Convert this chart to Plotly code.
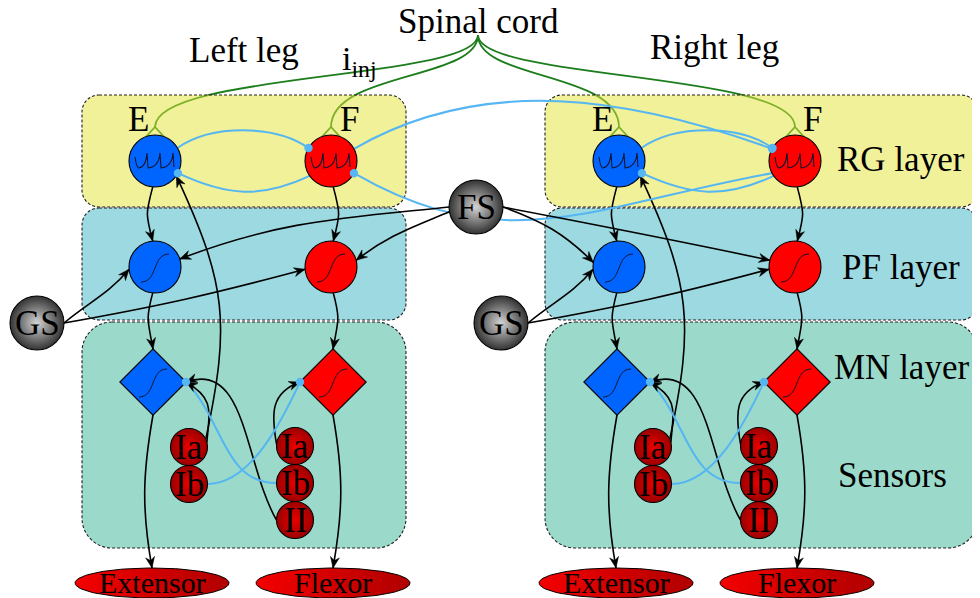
import numpy as np
import plotly.graph_objects as go

# ------------------------------------------------------------------ data
# nodes of one leg (left leg coordinates, pixel space, y downwards)
node_names = ["E_rg", "F_rg", "E_pf", "F_pf", "E_mn", "F_mn",
              "Ia_e", "Ib_e", "Ia_f", "Ib_f", "II_f", "Ext", "Flx", "GS"]
node_x = [155, 331, 155, 331, 153, 333, 189, 189, 295, 295, 295, 152, 333, 37]
node_y = [161, 161, 267, 267, 382, 382, 447, 484, 446, 483, 520, 583, 583, 323]
node_kind = ["rg", "rg", "pf", "pf", "mn", "mn", "sen", "sen", "sen", "sen",
             "sen", "mus", "mus", "gs"]
node_side = ["E", "F", "E", "F", "E", "F", "s", "s", "s", "s", "s", "m", "m", "g"]
node_text = ["", "", "", "", "", "", "Ia", "Ib", "Ia", "Ib", "II",
             "Extensor", "Flexor", "GS"]
leg_names = ["L", "R"]
leg_shift = [0, 464]
fs_pos = [476, 207]
cord_pos = [478, 35]

# layer boxes
box_x0 = [82, 545]
box_x1 = [406, 978]
layer_names = ["RG", "PF", "MN"]
layer_y0 = [95, 208, 322]
layer_y1 = [207, 320, 548]

# edges inside one leg: src, src anchor, out angle, dst, dst anchor, in angle, looseness, type
leg_edges = [
    ("E_rg", -95, -105, "E_pf", 95, 105, 1.3, "exc"),
    ("F_rg", -85, -75, "F_pf", 85, 75, 1.3, "exc"),
    ("E_pf", -95, -105, "E_mn", 90, 100, 1.3, "exc"),
    ("F_pf", -85, -75, "F_mn", 90, 80, 1.3, "exc"),
    ("E_mn", -90, -100, "Ext", 90, 100, 1.0, "exc"),
    ("F_mn", -90, -80, "Flx", 90, 80, 1.0, "exc"),
    ("GS", 0, 40, "E_pf", 185, 230, 1.0, "exc"),
    ("GS", 0, 10, "F_pf", 185, 195, 1.0, "exc"),
    ("Ia_e", 15, 85, "E_mn", 0, -30, 1.3, "exc"),
    ("Ia_e", 25, 78, "E_rg", -35, -65, 1.15, "exc"),
    ("II_f", 180, 120, "E_mn", 0, 20, 1.0, "exc"),
    ("Ia_f", 175, 100, "F_mn", 180, 200, 1.2, "exc"),
    ("E_rg", 30, 35, "F_rg", 150, 145, 0.8, "inh"),
    ("F_rg", 215, 205, "E_rg", -28, -25, 1.05, "inh"),
    ("Ib_e", 0, 0, "F_mn", 180, 245, 0.8, "inh"),
    ("Ib_f", 180, 180, "E_mn", 0, -45, 1.0, "inh"),
]
cross_edges = [
    ("F_rg.L", 28, 30, "F_rg.R", 152, 160, 0.92, "inh"),
    ("F_rg.R", 208, 190, "F_rg.L", -28, -30, 1.08, "inh"),
    ("FS", 180, 186, "E_pf.L", 18, 21, 1.0, "exc"),
    ("FS", 190, 203, "F_pf.L", 15, 38, 1.0, "exc"),
    ("FS", 0, -20, "E_pf.R", 170, 135, 1.0, "exc"),
    ("FS", 0, -11, "F_pf.R", 165, 168, 1.0, "exc"),
]
cord_targets = ["E_rg", "F_rg"]

label_text = ["Spinal cord", "Left leg", "Right leg", "RG layer", "PF layer",
              "MN layer", "Sensors", "E", "F", "E", "F"]
label_x = [478, 244, 714, 901, 901, 901, 892, 138, 349, 602, 812]
label_y = [21, 50, 47, 159, 267, 367, 475, 119, 119, 119, 119]
inj_text = "i<sub>inj</sub>"
inj_x, inj_y = 359, 61

# ------------------------------------------------------------------ style
FONT = "Liberation Serif, DejaVu Serif, serif"
BLUE = "#0064ff"
RED = "#ff0000"
INH = "#55b6f2"
GREEN = "#1c7d1c"
RAD = {"rg": 26, "pf": 26, "mn": 33, "sen": 18.5, "gs": 27}
MUS_R = (77, 15)
LAYER_FILL = {"RG": "rgb(227,227,51)", "PF": "rgb(59,179,195)", "MN": "rgb(55,181,149)"}
LAYER_CORNER = {"RG": 17, "PF": 17, "MN": 30}
BIG = 35
# the page body has an 8px margin; shift axis ranges so coordinates match the page
OFF = 8

# ------------------------------------------------------------------ geometry helpers
pos, kind, side, text = {}, {}, {}, {}
for li, leg in enumerate(leg_names):
    for n, x, y, k, s, t in zip(node_names, node_x, node_y, node_kind, node_side, node_text):
        key = f"{n}.{leg}"
        pos[key] = np.array([x + leg_shift[li], y], float)
        kind[key], side[key], text[key] = k, s, t
pos["FS"] = np.array(fs_pos, float)
kind["FS"], side["FS"], text["FS"] = "gs", "g", "FS"


def dvec(a):
    r = np.radians(a)
    return np.array([np.cos(r), -np.sin(r)])


def anchor(n, a):
    c, k, d = pos[n], kind[n], dvec(a)
    if k == "mn":
        return c + RAD[k] / (abs(d[0]) + abs(d[1])) * d
    if k == "mus":
        return c + np.array([MUS_R[0] * d[0], MUS_R[1] * d[1]])
    return c + RAD[k] * d


def P(p):
    return f"{p[0]:.2f},{p[1]:.2f}"


shapes_green, shapes_lines, shapes_heads, shapes_dots, shapes_icons = [], [], [], [], []


def add_edge(src, sa, out, dst, da, inn, loose, typ):
    p0, p3 = anchor(src, sa), anchor(dst, da)
    k = 0.3915 * loose * np.linalg.norm(p3 - p0)
    p1, p2 = p0 + k * dvec(out), p3 + k * dvec(inn)
    col = "black" if typ == "exc" else INH
    wid = 1.6 if typ == "exc" else 2.0
    shapes_lines.append(dict(type="path", xref="x", yref="y", layer="below",
                             path=f"M {P(p0)} C {P(p1)} {P(p2)} {P(p3)}",
                             line=dict(color=col, width=wid)))
    if typ == "exc":
        u = (p3 - p2) / np.linalg.norm(p3 - p2)
        nrm = np.array([-u[1], u[0]])
        base = p3 - 11 * u
        notch = p3 - 7.5 * u
        shapes_heads.append(dict(type="path", xref="x", yref="y", layer="below",
                                 path=f"M {P(p3)} L {P(base + 4.5 * nrm)} L {P(notch)} L {P(base - 4.5 * nrm)} Z",
                                 fillcolor="black", line=dict(color="black", width=0.5)))
    else:
        shapes_dots.append(dict(type="circle", xref="x", yref="y", layer="above",
                                x0=p3[0] - 4.2, x1=p3[0] + 4.2, y0=p3[1] - 4.2, y1=p3[1] + 4.2,
                                fillcolor=INH, line=dict(width=0)))


for leg in leg_names:
    for (s, sa, o, d, da, i, lo, t) in leg_edges:
        add_edge(f"{s}.{leg}", sa, o, f"{d}.{leg}", da, i, lo, t)
for e in cross_edges:
    add_edge(*e)

# spinal cord lines with forks
c0 = np.array(cord_pos, float)
for leg in leg_names:
    for n in cord_targets:
        key = f"{n}.{leg}"
        top = pos[key] - np.array([0, RAD["rg"] + 8])
        shapes_green.append(dict(type="path", xref="x", yref="y", layer="below",
                                 path=f"M {P(c0)} C {P(c0 + [0, 45])} {P(top - [0, 55])} {P(top)}",
                                 line=dict(color=GREEN, width=1.8)))
        a1, a2 = anchor(key, 110), anchor(key, 70)
        shapes_green.append(dict(type="path", xref="x", yref="y", layer="below",
                                 path=f"M {P(a1)} L {P(top)} L {P(a2)}",
                                 line=dict(color=GREEN, width=1.8)))

# layer boxes
shapes_boxes = []
KAP = 0.5523
for li in range(len(leg_names)):
    for ln, y0, y1 in zip(layer_names, layer_y0, layer_y1):
        x0, x1, r = box_x0[li], box_x1[li], LAYER_CORNER[ln]
        q = r * (1 - KAP)
        path = (f"M {x0 + r},{y0} L {x1 - r},{y0} C {x1 - q},{y0} {x1},{y0 + q} {x1},{y0 + r} "
                f"L {x1},{y1 - r} C {x1},{y1 - q} {x1 - q},{y1} {x1 - r},{y1} "
                f"L {x0 + r},{y1} C {x0 + q},{y1} {x0},{y1 - q} {x0},{y1 - r} "
                f"L {x0},{y0 + r} C {x0},{y0 + q} {x0 + q},{y0} {x0 + r},{y0} Z")
        shapes_boxes.append(dict(type="path", xref="x", yref="y", layer="below", path=path,
                                 fillcolor=LAYER_FILL[ln], opacity=0.5, line=dict(width=0)))
        shapes_boxes.append(dict(type="path", xref="x", yref="y", layer="below", path=path,
                                 fillcolor="rgba(0,0,0,0)",
                                 line=dict(color="#202020", width=1.1, dash="3px,2px")))

# icons inside nodes
for key in pos:
    cx, cy = pos[key]
    if kind[key] == "rg":
        x0 = cx - 20
        p = f"M {x0},{cy - 4} Q {x0 + 1.5},{cy + 7} {x0 + 4},{cy + 7} Q {x0 + 11},{cy + 6} {x0 + 12},{cy - 8} L {x0 + 13},{cy + 7} "
        p += f"Q {x0 + 24},{cy + 6} {x0 + 25},{cy - 8} L {x0 + 26},{cy + 7} Q {x0 + 37},{cy + 6} {x0 + 38},{cy - 8} L {x0 + 39},{cy + 6}"
        shapes_icons.append(dict(type="path", xref="x", yref="y", layer="above", path=p,
                                 line=dict(color="#151530", width=1.1)))
    elif kind[key] in ("pf", "mn"):
        p = f"M {cx - 14},{cy + 15} C {cx + 3},{cy + 15} {cx - 3},{cy - 13} {cx + 14},{cy - 13}"
        shapes_icons.append(dict(type="path", xref="x", yref="y", layer="above", path=p,
                                 line=dict(color="#151530", width=1.0)))

fig = go.Figure()


def keys_where(f):
    return [k for k in pos if f(k)]


def add_markers(keys, color, size, symbol="circle", grad=None):
    m = dict(color=color, size=size, symbol=symbol, line=dict(color="black", width=1.1))
    if grad:
        m["gradient"] = dict(type="radial", color=grad)
    fig.add_trace(go.Scatter(x=[pos[k][0] for k in keys], y=[pos[k][1] for k in keys],
                             mode="markers", marker=m, hoverinfo="skip", showlegend=False))


add_markers(keys_where(lambda k: kind[k] in ("rg", "pf") and side[k] == "E"), BLUE, 52)
add_markers(keys_where(lambda k: kind[k] in ("rg", "pf") and side[k] == "F"), RED, 52)
add_markers(keys_where(lambda k: kind[k] == "mn" and side[k] == "E"), BLUE, 51, "diamond")
add_markers(keys_where(lambda k: kind[k] == "mn" and side[k] == "F"), RED, 51, "diamond")
add_markers(keys_where(lambda k: kind[k] == "sen"), "#9c0000", 37, grad="#e80000")
add_markers(keys_where(lambda k: kind[k] == "gs"), "#333333", 54, grad="#d4d4d4")

th = np.linspace(0, 2 * np.pi, 121)
for k in keys_where(lambda k: kind[k] == "mus"):
    cx, cy = pos[k]
    fig.add_trace(go.Scatter(x=cx + MUS_R[0] * np.cos(th), y=cy + MUS_R[1] * np.sin(th),
                             mode="lines", fill="toself", line=dict(color="black", width=1),
                             fillgradient=dict(type="horizontal",
                                               colorscale=[[0, "#f40000"], [1, "#b00000"]]),
                             hoverinfo="skip", showlegend=False))

annotations = []
for k in pos:
    if text[k]:
        if kind[k] == "mus":
            fs, yy = 30, pos[k][1] - 1
        else:
            fs, yy = BIG, pos[k][1]
        annotations.append(dict(x=pos[k][0], y=yy, xref="x", yref="y", text=text[k],
                                showarrow=False, xanchor="center", yanchor="middle",
                                font=dict(family=FONT, size=fs, color="black")))
for t, x, y in zip(label_text, label_x, label_y):
    annotations.append(dict(x=x, y=y, xref="x", yref="y", text=t, showarrow=False,
                            xanchor="center", yanchor="middle",
                            font=dict(family=FONT, size=BIG, color="black")))
annotations.append(dict(x=inj_x, y=inj_y, xref="x", yref="y", text=inj_text, showarrow=False,
                        xanchor="center", yanchor="middle",
                        font=dict(family=FONT, size=34, color="black")))

fig.update_layout(
    width=980, height=598, autosize=False,
    margin=dict(l=0, r=0, t=0, b=0, pad=0),
    paper_bgcolor="white", plot_bgcolor="white",
    xaxis=dict(range=[OFF, 980 + OFF], visible=False, fixedrange=True),
    yaxis=dict(range=[598 + OFF, OFF], visible=False, fixedrange=True),
    shapes=shapes_green + shapes_boxes + shapes_lines + shapes_heads + shapes_icons + shapes_dots,
    annotations=annotations,
)
fig.write_html("out.html")
